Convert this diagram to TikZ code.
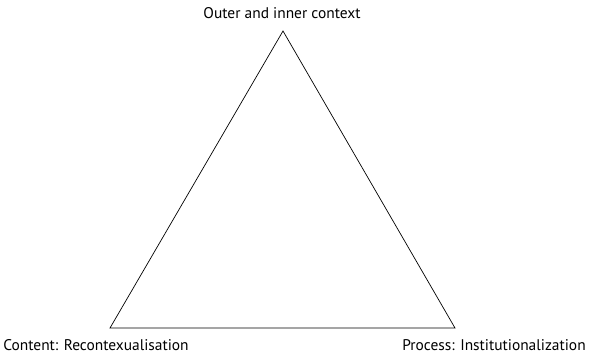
\documentclass[tikz,border=0pt]{standalone}
\usepackage{fontspec}
\setmainfont{PT Sans}
\begin{document}
\begin{tikzpicture}[x=1bp,y=-1bp,
  corner/.style={inner sep=0pt, font=\fontsize{15.5}{18}\selectfont},
  side/.style={draw=black, line width=0.7bp}]
  \useasboundingbox (0,0) rectangle (592,356);
  \coordinate (top) at (283,31);
  \coordinate (left) at (110,328);
  \coordinate (right) at (455,328);
  \draw[side] (top) -- (left) -- (right) -- cycle;
  \node[corner] (ltop) at (282,13) {Outer and inner context};
  \node[corner] (lleft) at (96,345) {Content: Recontexualisation};
  \node[corner] (lright) at (494,345) {Process: Institutionalization};
\end{tikzpicture}
\end{document}
